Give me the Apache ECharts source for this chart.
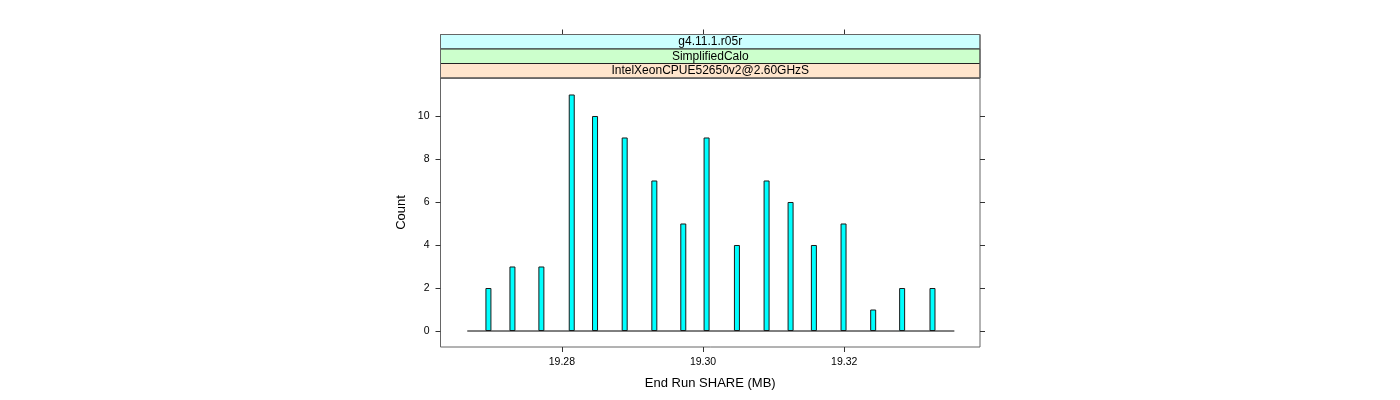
<!DOCTYPE html>
<html>
<head>
<meta charset="utf-8">
<script src="https://cdn.jsdelivr.net/npm/echarts@6/dist/echarts.min.js"></script>
<style>html,body{margin:0;padding:0;background:#fff;}#c{width:1400px;height:400px;}</style>
</head>
<body>
<div id="c"></div>
<script>
// ---- data ----
const shareValues = [19.2696, 19.2730, 19.2771, 19.2814, 19.2847, 19.2889, 19.2931, 19.2972, 19.3005,
                     19.3048, 19.3090, 19.3124, 19.3157, 19.3199, 19.3241, 19.3282, 19.3325];
const counts = [2, 3, 3, 11, 10, 9, 7, 5, 9, 4, 7, 6, 4, 5, 1, 2, 2];
const xTicks = [19.28, 19.30, 19.32];
const xTickLabels = ['19.28', '19.30', '19.32'];
const yTicks = [0, 2, 4, 6, 8, 10];
const baselineRange = [19.2666, 19.3356];
const stripLabels = ['g4.11.1.r05r', 'SimplifiedCalo', 'IntelXeonCPUE52650v2@2.60GHzS'];
const stripColors = ['#CCFFFF', '#CCFFCC', '#FFE5CC'];
const xRange = [19.26281, 19.33923];
const yRange = [-0.744, 11.767];

// ---- layout ----
const G = { left: 440.5, top: 78, width: 539.5, height: 269 };
const stripTop = 34.5, stripH = (G.top - stripTop) / 3;
const FONT = 'Liberation Sans, Arial, Helvetica, sans-serif';

const chart = echarts.init(document.getElementById('c'), null, { renderer: 'canvas' });

const graphics = [];
stripLabels.forEach((t, i) => {
  graphics.push({
    type: 'rect',
    shape: { x: G.left, y: stripTop + i * stripH, width: G.width, height: stripH },
    style: { fill: stripColors[i], stroke: i === 0 ? '#555' : '#222', lineWidth: 1 },
    z: 10
  });
  graphics.push({
    type: 'text',
    x: G.left + G.width / 2, y: stripTop + i * stripH + stripH / 2,
    style: { text: t, fill: '#000', font: '12px ' + FONT, align: 'center', verticalAlign: 'middle' },
    z: 11
  });
});
graphics.push({
  type: 'rect',
  shape: { x: G.left, y: stripTop, width: G.width, height: G.top - stripTop },
  style: { fill: 'none', stroke: '#666', lineWidth: 1 },
  z: 12
});

const tickStyle = { show: true, length: 5, inside: false, lineStyle: { color: '#333', width: 1 } };

chart.setOption({
  animation: false,
  backgroundColor: '#fff',
  grid: { left: G.left, top: G.top, width: G.width, height: G.height, show: true,
          borderColor: '#666', borderWidth: 1, backgroundColor: 'transparent' },
  graphic: graphics,
  xAxis: [
    {
      type: 'value', min: xRange[0], max: xRange[1], position: 'bottom',
      name: 'End Run SHARE (MB)', nameLocation: 'middle', nameGap: 30,
      nameTextStyle: { fontFamily: FONT, fontSize: 13, color: '#000' },
      axisLine: { show: false, onZero: false },
      axisTick: Object.assign({ customValues: xTicks }, tickStyle),
      axisLabel: { customValues: xTicks, margin: 10, fontFamily: FONT, fontSize: 10.5, color: '#000',
                   formatter: v => xTickLabels[xTicks.findIndex(t => Math.abs(t - v) < 1e-6)] || '' },
      splitLine: { show: false }
    },
    {
      type: 'value', min: xRange[0], max: xRange[1], position: 'top', offset: G.top - stripTop,
      axisLine: { show: false, onZero: false },
      axisTick: Object.assign({ customValues: xTicks }, tickStyle),
      axisLabel: { show: false },
      splitLine: { show: false }
    }
  ],
  yAxis: [
    {
      type: 'value', min: yRange[0], max: yRange[1], position: 'left',
      name: 'Count', nameLocation: 'middle', nameGap: 33, nameRotate: 90,
      nameTextStyle: { fontFamily: FONT, fontSize: 13, color: '#000' },
      axisLine: { show: false, onZero: false },
      axisTick: Object.assign({ customValues: yTicks }, tickStyle),
      axisLabel: { customValues: yTicks, margin: 11, fontFamily: FONT, fontSize: 10.5, color: '#000' },
      splitLine: { show: false }
    },
    {
      type: 'value', min: yRange[0], max: yRange[1], position: 'right',
      axisLine: { show: false, onZero: false },
      axisTick: Object.assign({ customValues: yTicks }, tickStyle),
      axisLabel: { show: false },
      splitLine: { show: false }
    }
  ],
  series: [
    {
      type: 'line', xAxisIndex: 0, yAxisIndex: 0,
      data: baselineRange.map(x => [x, 0]),
      symbol: 'none', lineStyle: { color: '#000', width: 1 }, z: 1, silent: true
    },
    {
      type: 'bar', xAxisIndex: 0, yAxisIndex: 0,
      data: shareValues.map((x, i) => [x, counts[i]]),
      barWidth: 6,
      itemStyle: { color: '#00FFFF', borderColor: '#1a1a1a', borderWidth: 1 },
      z: 2, silent: true
    }
  ]
});
</script>
</body>
</html>
